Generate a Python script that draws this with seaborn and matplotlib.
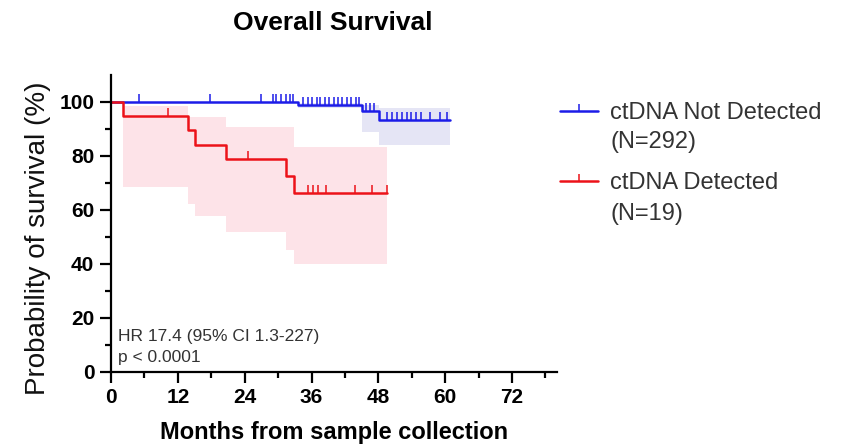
import matplotlib
matplotlib.use("Agg")
import matplotlib.pyplot as plt
from matplotlib.lines import Line2D
from matplotlib.path import Path
from matplotlib.ticker import MultipleLocator
import seaborn as sns
import pandas as pd
import numpy as np

# Kaplan-Meier steps (months, % surviving)
not_det_times = [0, 33.6, 45.0, 48.2, 60.9]
not_det_surv = [100, 98.9, 96.7, 93.4, 93.4]
not_det_lower = [100, 97.6, 89.0, 83.9, 83.9]
not_det_upper = [100, 99.8, 99.0, 97.6, 97.6]
not_det_censor = [5.0, 17.8, 27.0, 29.1, 29.7, 30.6, 31.5, 32.1, 32.7,
                  34.5, 35.3, 36.1, 36.9, 37.6, 38.4, 39.2, 40.0, 40.8, 41.5,
                  42.3, 43.1, 43.9, 44.6, 45.8, 46.5, 47.3,
                  49.5, 50.4, 51.3, 52.2, 53.1, 53.9, 54.8, 55.7, 57.3, 59.1, 60.3]

det_times = [0, 2.1, 13.8, 15.1, 20.6, 31.4, 32.9, 49.5]
det_surv = [100, 94.7, 89.5, 84.2, 78.9, 72.5, 66.2, 66.2]
det_lower = [100, 68.5, 62.0, 57.7, 51.7, 45.0, 39.9, 39.9]
det_upper = [100, 98.5, 94.4, 94.4, 90.7, 90.7, 83.3, 83.3]
det_censor = [10.2, 24.6, 35.4, 36.3, 37.2, 38.6, 43.8, 46.8, 49.5]

labels = ["ctDNA Not Detected", "ctDNA Detected"]
counts = ["(N=292)", "(N=19)"]
blue = "#1c1ce8"
red = "#ec1219"

sns.set_style("ticks")
plt.rcParams["font.family"] = ["Liberation Sans", "DejaVu Sans"]

fig = plt.figure(figsize=(8.43, 4.44), dpi=100)
ax = fig.add_axes([111 / 843, 72.3 / 444, 445.6 / 843, 296.7 / 444])

# tick mark pointing up from the curve
tick_up = Path([(0, 0), (0, 1)])


def draw_group(times, surv, lower, upper, censor, color, band, label):
    df = pd.DataFrame({"t": times, "s": surv})
    ax.fill_between(times, lower, upper, step="post", color=band, lw=0, zorder=1)
    sns.lineplot(data=df, x="t", y="s", drawstyle="steps-post", estimator=None,
                 sort=False, color=color, lw=1.8, ax=ax, zorder=3, label=label)
    idx = np.searchsorted(times, censor, side="right") - 1
    cdf = pd.DataFrame({"t": censor, "s": np.array(surv)[idx]})
    sns.scatterplot(data=cdf, x="t", y="s", marker=tick_up, s=120, color=color,
                    edgecolor=color, linewidth=1.1, ax=ax, zorder=4, legend=False)


draw_group(not_det_times, not_det_surv, not_det_lower, not_det_upper,
           not_det_censor, blue, "#e5e5f5", labels[0])
draw_group(det_times, det_surv, det_lower, det_upper,
           det_censor, red, "#fde3e8", labels[1])

ax.set_xlim(0, 80)
ax.set_ylim(0, 110)
ax.xaxis.set_major_locator(MultipleLocator(12))
ax.xaxis.set_minor_locator(MultipleLocator(6))
ax.set_yticks([0, 20, 40, 60, 80, 100])
ax.set_yticks([10, 30, 50, 70, 90], minor=True)
for s in ["top", "right"]:
    ax.spines[s].set_visible(False)
for s in ["left", "bottom"]:
    ax.spines[s].set_linewidth(1.6)
    ax.spines[s].set_color("black")
ax.spines["left"].set_zorder(5)
ax.tick_params(which="major", length=8, width=1.6, color="black", pad=4,
               labelsize=15, labelcolor="black")
ax.tick_params(which="minor", length=4, width=1.6, color="black")
for lab in ax.get_xticklabels() + ax.get_yticklabels():
    lab.set_fontweight("bold")

ax.set_xlabel("Months from sample collection", fontsize=17, fontweight="bold",
              color="black")
ax.xaxis.set_label_coords(0.5, -0.206)
ax.xaxis.label.set_va("center")
ax.set_ylabel("Probability of survival (%)", fontsize=20, color="#111111")
ax.yaxis.set_label_coords(-0.164, 0.45)
ax.yaxis.label.set_va("center")

fig.text(333 / 843, 1 - 23 / 444, "Overall Survival", fontsize=19,
         fontweight="bold", ha="center", va="center", color="black")

ax.text(1.2, 13, "HR 17.4 (95% CI 1.3-227)", fontsize=12.5, color="#333333",
        va="center")
ax.text(1.2, 5.3, "p < 0.0001", fontsize=12.5, color="#333333", va="center")

handles = [Line2D([0], [0], color=c, lw=1.8, marker=tick_up, markersize=10,
                  markeredgewidth=1.1) for c in (blue, red)]
leg = ax.legend(handles, labels, loc="upper left",
                bbox_to_anchor=(560 / 843, 1 - 102 / 444),
                bbox_transform=fig.transFigure, frameon=False, fontsize=17,
                handlelength=1.6, handletextpad=0.5, labelspacing=2.05,
                numpoints=1, borderaxespad=0, borderpad=0)
for t in leg.get_texts():
    t.set_color("#333333")
fig.text(610 / 843, 1 - 142 / 444, counts[0], fontsize=17, color="#333333",
         va="center")
fig.text(610 / 843, 1 - 214 / 444, counts[1], fontsize=17, color="#333333",
         va="center")

fig.savefig("out.png", dpi=100)
